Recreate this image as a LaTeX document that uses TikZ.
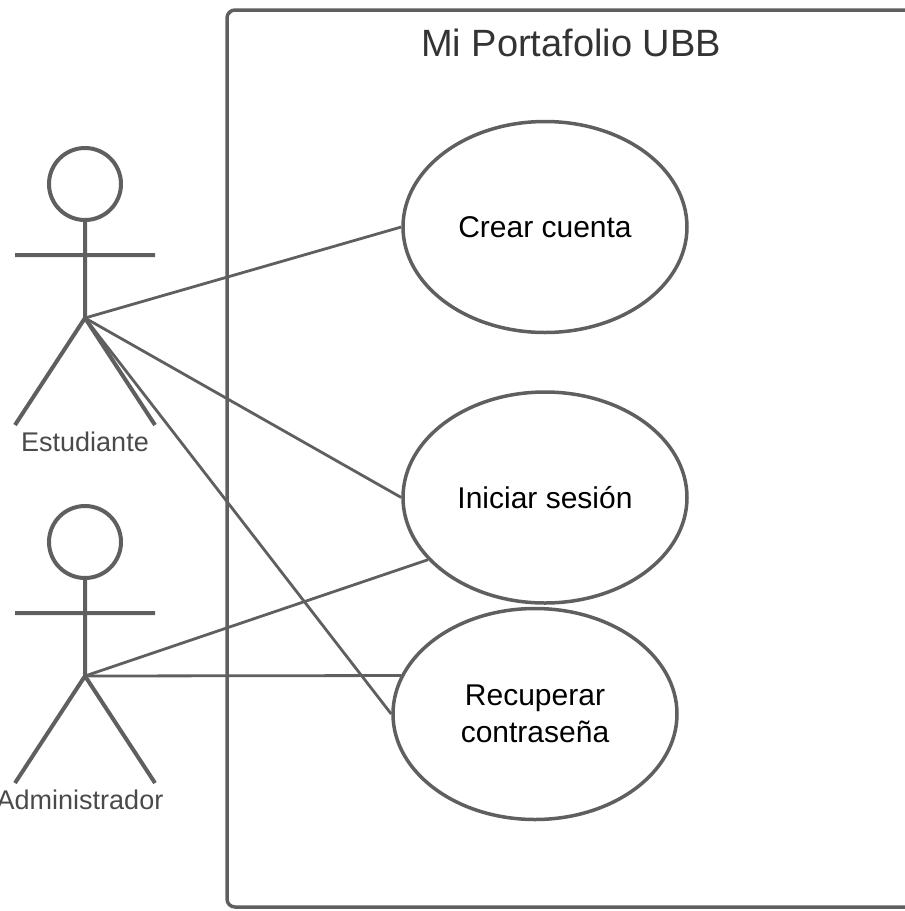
\documentclass[tikz,border=0pt]{standalone}
\usepackage{fontspec}
\setmainfont{Liberation Sans}
\usetikzlibrary{shapes.geometric, positioning}
\definecolor{linegrey}{HTML}{5F5F5F}
\definecolor{titlegrey}{HTML}{333333}
\definecolor{labelgrey}{HTML}{4A4A4A}
\begin{document}
\begin{tikzpicture}[x=1pt, y=-1pt,
        uc/.style={ellipse, draw=linegrey, line width=3.5pt, fill=white, minimum width=284pt, minimum height=211pt, inner sep=0pt, align=center, font=\fontsize{30}{37}\selectfont},
        head/.style={circle, draw=linegrey, line width=4pt, minimum size=72pt, inner sep=0pt},
        stick/.style={draw=linegrey, line width=4pt},
        lbl/.style={text=labelgrey, font=\fontsize{27}{30}\selectfont},
        e/.style={draw=linegrey, line width=2.8pt}]
        \useasboundingbox (0,0) rectangle (905,911);
        \clip (0,0) rectangle (905,911);
        \draw[draw=linegrey, line width=3.5pt, rounded corners=8pt] (227,10) rectangle (930,907);
        \node[text=titlegrey, font=\fontsize{38}{44}\selectfont] (sys) at (571,43) {Mi Portafolio UBB};

        \foreach \a/\y/\t/\lx in {est/184/Estudiante/85, adm/542/Administrador/80}
        {
        \node[head] (\a) at (85,\y) {};
        \coordinate (\a-hip) at (85,{\y+134});
        \draw[stick] (\a.south) -- (\a-hip) (15,{\y+71}) -- (155,{\y+71}) (15,{\y+241}) -- (\a-hip) -- (155,{\y+241});
        \node[lbl] (\a-label) at (\lx,{\y+258}) {\t};
        }

        \node[uc] (crear) at (545,227) {Crear cuenta};
        \node[uc, below=56pt of crear] (iniciar) {Iniciar sesión};
        \node[uc, below=2pt of iniciar, xshift=-10pt] (recuperar) {Recuperar\\contraseña};

        \draw[e] (est-hip) -- (crear.west);
        \draw[e] (est-hip) -- (iniciar.west);
        \draw[e] (est-hip) -- (recuperar.west);
        \draw[e] (adm-hip) -- (iniciar.208);
        \draw[e] (adm-hip) -- (recuperar.164);
\end{tikzpicture}
\end{document}
